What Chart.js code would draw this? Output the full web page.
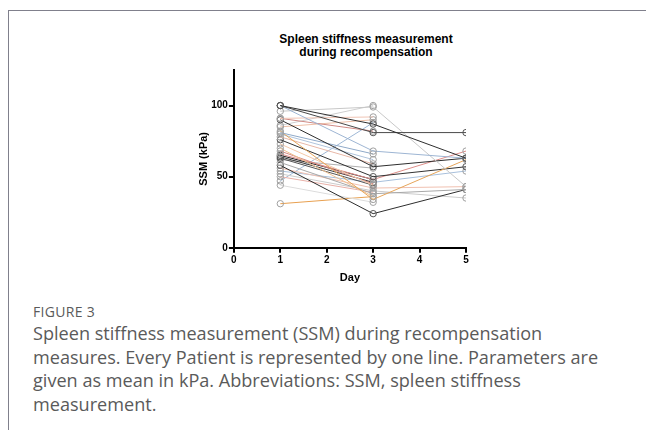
<!DOCTYPE html>
<html>
<head>
<meta charset="utf-8">
<script src="https://cdn.jsdelivr.net/npm/chart.js@4"></script>
<style>
  html, body { margin: 0; padding: 0; background: #fff; }
  body { width: 646px; height: 430px; position: relative; overflow: hidden; }
  .frame-top { position: absolute; left: 8px; top: 10px; width: 640px; height: 0; border-top: 1.5px solid #80808c; }
  .frame-left { position: absolute; left: 8px; top: 10px; width: 0; height: 430px; border-left: 1.5px solid #80808c; }
  .title { position: absolute; left: 266px; top: 33px; width: 200px; text-align: center; font-family: "Liberation Sans", Arial, sans-serif; font-weight: bold; font-size: 12px; line-height: 12.5px; color: #000; }
  #wrap { position: absolute; left: 190px; top: 63px; width: 346px; height: 222px; }
  .caption { position: absolute; left: 33px; top: 302px; width: 585px; font-family: "Open Sans", sans-serif; color: #5a5a5a; }
  .fig { font-size: 14px; letter-spacing: 0.3px; margin-bottom: 1px; }
  .txt { font-size: 18.1px; line-height: 23.6px; }
</style>
</head>
<body>
<div class="frame-top"></div>
<div class="frame-left"></div>
<div class="title">Spleen stiffness measurement<br>during recompensation</div>
<div id="wrap"><canvas id="c"></canvas></div>
<div class="caption">
  <div class="fig">FIGURE 3</div>
  <div class="txt">Spleen stiffness measurement (SSM) during recompensation measures. Every Patient is represented by one line. Parameters are given as mean in kPa. Abbreviations: SSM, spleen stiffness measurement.</div>
</div>
<script>
const days = [1, 3, 5];
const xTicks = [0, 1, 2, 3, 4, 5];
const yTicks = [0, 50, 100];
// SSM (kPa) per patient at each day (null = not measured)
const day1 = [100, 100, 100, 96, 91, 91, 90, 86, 81, 82, 80, 78, 76, 73, 70, 68, 66, 65, 64, 63, 60, 58, 56, 54, 52, 50, 47, 44, 31, 62, 85];
const day3 = [87, 81, 68, 99, 92, 82, 57, 100, 66, 34, 62, 59, 50, 44, 36, 45, 48, 48, 46, 44, 38, 24, 42, 46, 40, 39, 88, 32, 36, 56, 90];
const day5 = [63, 81, 63, 43, null, null, 63, null, null, 62, null, null, 57, null, null, null, 68, null, null, null, 41, 41, 43, 54, 35, null, null, null, null, null, null];
const lineColors = ['#2e2e2e', '#4a4a4a', '#9db5d3', '#c8c8c8', '#f0c4b4', '#d08a84', '#2e2e2e', '#cfcfcf', '#8fa9c8', '#e6a55a',
  '#b0c4dc', '#e8b8a8', '#333333', '#f4c8a8', '#f0c090', '#d48880', '#de8e8a', '#222222', '#3a3a3a', '#555555',
  '#a8a8a8', '#2e2e2e', '#f0c0b0', '#a8c0dc', '#cccccc', '#e8b0a8', '#9fb8d6', '#dcdcdc', '#e8a050', '#b0b0b0', '#eec0a8'];
const darkColors = ['#2e2e2e', '#4a4a4a', '#333333', '#222222', '#3a3a3a', '#555555'];

const datasets = day1.map((v, i) => {
  const vals = [v, day3[i], day5[i]];
  const data = [];
  days.forEach((d, k) => { if (vals[k] !== null) data.push({ x: d, y: vals[k] }); });
  const c = lineColors[i];
  const dark = darkColors.includes(c);
  return {
    data,
    borderColor: c,
    borderWidth: 1,
    pointRadius: 3.2,
    pointBorderWidth: 1,
    pointBorderColor: dark ? '#555' : '#a0a0a0',
    pointBackgroundColor: 'rgba(0,0,0,0)',
    fill: false,
    tension: 0
  };
});

const tickFont = { family: 'Liberation Sans, Arial, sans-serif', size: 10, weight: 'bold' };
const titleFont = { family: 'Liberation Sans, Arial, sans-serif', size: 11, weight: 'bold' };

new Chart(document.getElementById('c'), {
  type: 'line',
  data: { datasets },
  options: {
    responsive: true,
    maintainAspectRatio: false,
    animation: false,
    layout: { padding: { left: 7, right: 70, top: 2, bottom: 0 } },
    plugins: {
      legend: { display: false },
      tooltip: { enabled: false },
      title: { display: false }
    },
    scales: {
      x: {
        type: 'linear',
        min: 0, max: 5,
        afterBuildTicks: s => { s.ticks = xTicks.map(v => ({ value: v })); },
        border: { display: true, color: '#000', width: 2 },
        grid: { display: true, drawOnChartArea: false, drawTicks: true, tickLength: 5, color: '#000', lineWidth: 2 },
        ticks: { color: '#000', font: tickFont, padding: 1, maxRotation: 0 },
        title: { display: true, text: 'Day', color: '#000', font: titleFont, padding: { top: 5, bottom: 0 } }
      },
      y: {
        type: 'linear',
        min: 0, max: 125,
        afterBuildTicks: s => { s.ticks = yTicks.map(v => ({ value: v })); },
        border: { display: true, color: '#000', width: 2 },
        grid: { display: true, drawOnChartArea: false, drawTicks: true, tickLength: 5, color: '#000', lineWidth: 2 },
        ticks: { color: '#000', font: tickFont, padding: 1 },
        title: { display: true, text: 'SSM (kPa)', color: '#000', font: titleFont, padding: { top: 0, bottom: 0 } }
      }
    }
  }
});
</script>
</body>
</html>
